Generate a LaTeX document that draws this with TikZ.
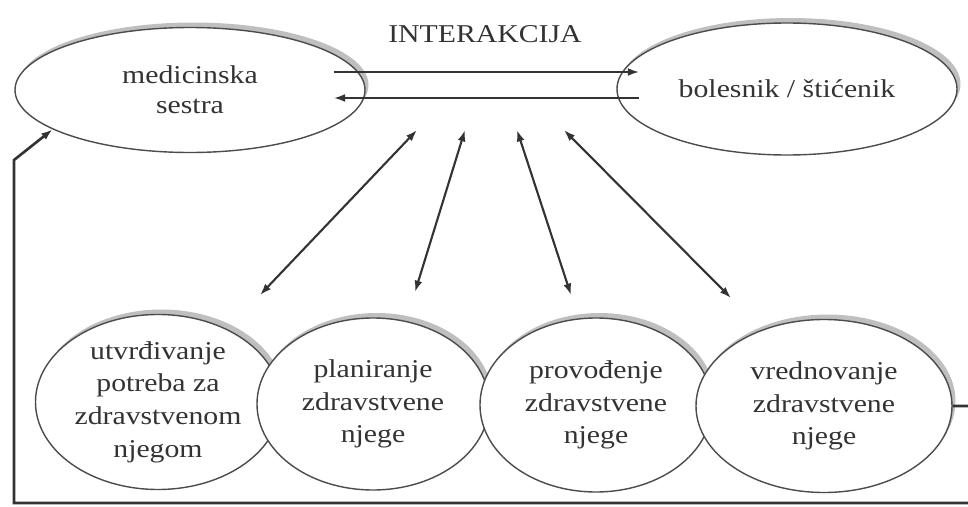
\documentclass[tikz,border=0pt]{standalone}
\usepackage{fontspec}
\setmainfont{Liberation Serif}[FakeStretch=1.16]
\usetikzlibrary{shapes.geometric,shadows,arrows.meta}

\begin{document}
\begin{tikzpicture}[x=0.02cm,y=-0.02cm,>={Latex[length=6.5pt,width=4.5pt]},
    oval/.style={ellipse,draw=black!70,line width=0.8pt,fill=white,
      inner sep=0pt,align=center,text=black!80,
      general shadow={fill=black!25,shadow xshift=0.07cm,shadow yshift=0.1cm}},
    topfont/.style={font=\fontsize{14.6}{17}\selectfont},
    lowfont/.style={font=\fontsize{14.6}{18.6}\selectfont},
    link/.style={draw=black!80,line width=1.2pt}]
  \useasboundingbox (0,0) rectangle (968,507);
  \clip (0,0) rectangle (968,507);

  % Top ovals
  \node[oval,topfont,minimum width=350*0.02cm,minimum height=125*0.02cm]
    (ms) at (190,90) {medicinska\\sestra};
  \node[oval,topfont,minimum width=340*0.02cm,minimum height=132*0.02cm]
    (bs) at (787,89) {bolesnik / štićenik};
  \node[topfont,text=black!80] (ia) at (485,34) {INTERAKCIJA};

  % Interaction
  \draw[link,->] ([shift={(-32,-18)}]ms.east) -- ([shift={(23,-17)}]bs.west);
  \draw[link,<-] ([shift={(-32,8)}]ms.east) -- ([shift={(23,9)}]bs.west);

  % Process ovals
  \node[oval,lowfont,minimum width=245*0.02cm,minimum height=175*0.02cm]
    (ut) at (158,402) {utvrđivanje\\potreba za\\zdravstvenom\\njegom};
  \node[oval,lowfont,minimum width=232*0.02cm,minimum height=172*0.02cm]
    (pl) at (373,404) {planiranje\\zdravstvene\\njege};
  \node[oval,lowfont,minimum width=232*0.02cm,minimum height=174*0.02cm]
    (pr) at (596,405) {provođenje\\zdravstvene\\njege};
  \node[oval,lowfont,minimum width=256*0.02cm,minimum height=173*0.02cm]
    (vr) at (824,406) {vrednovanje\\zdravstvene\\njege};

  % Double arrows
  \coordinate (t1) at (417,130); \coordinate (b1) at (260,295);
  \coordinate (t2) at (465,130); \coordinate (b2) at (415,292);
  \coordinate (t3) at (517,130); \coordinate (b3) at (571,295);
  \coordinate (t4) at (564,130); \coordinate (b4) at (731,298);
  \foreach \i in {1,...,4}
    \draw[link,<->] (t\i) -- (b\i);

  % Feedback
  \draw[link,line width=1.5pt,->] (vr.east) -- (975,406) -- (975,503)
    -- (14,503) -- (14,160) -- (ms.196);
\end{tikzpicture}
\end{document}
